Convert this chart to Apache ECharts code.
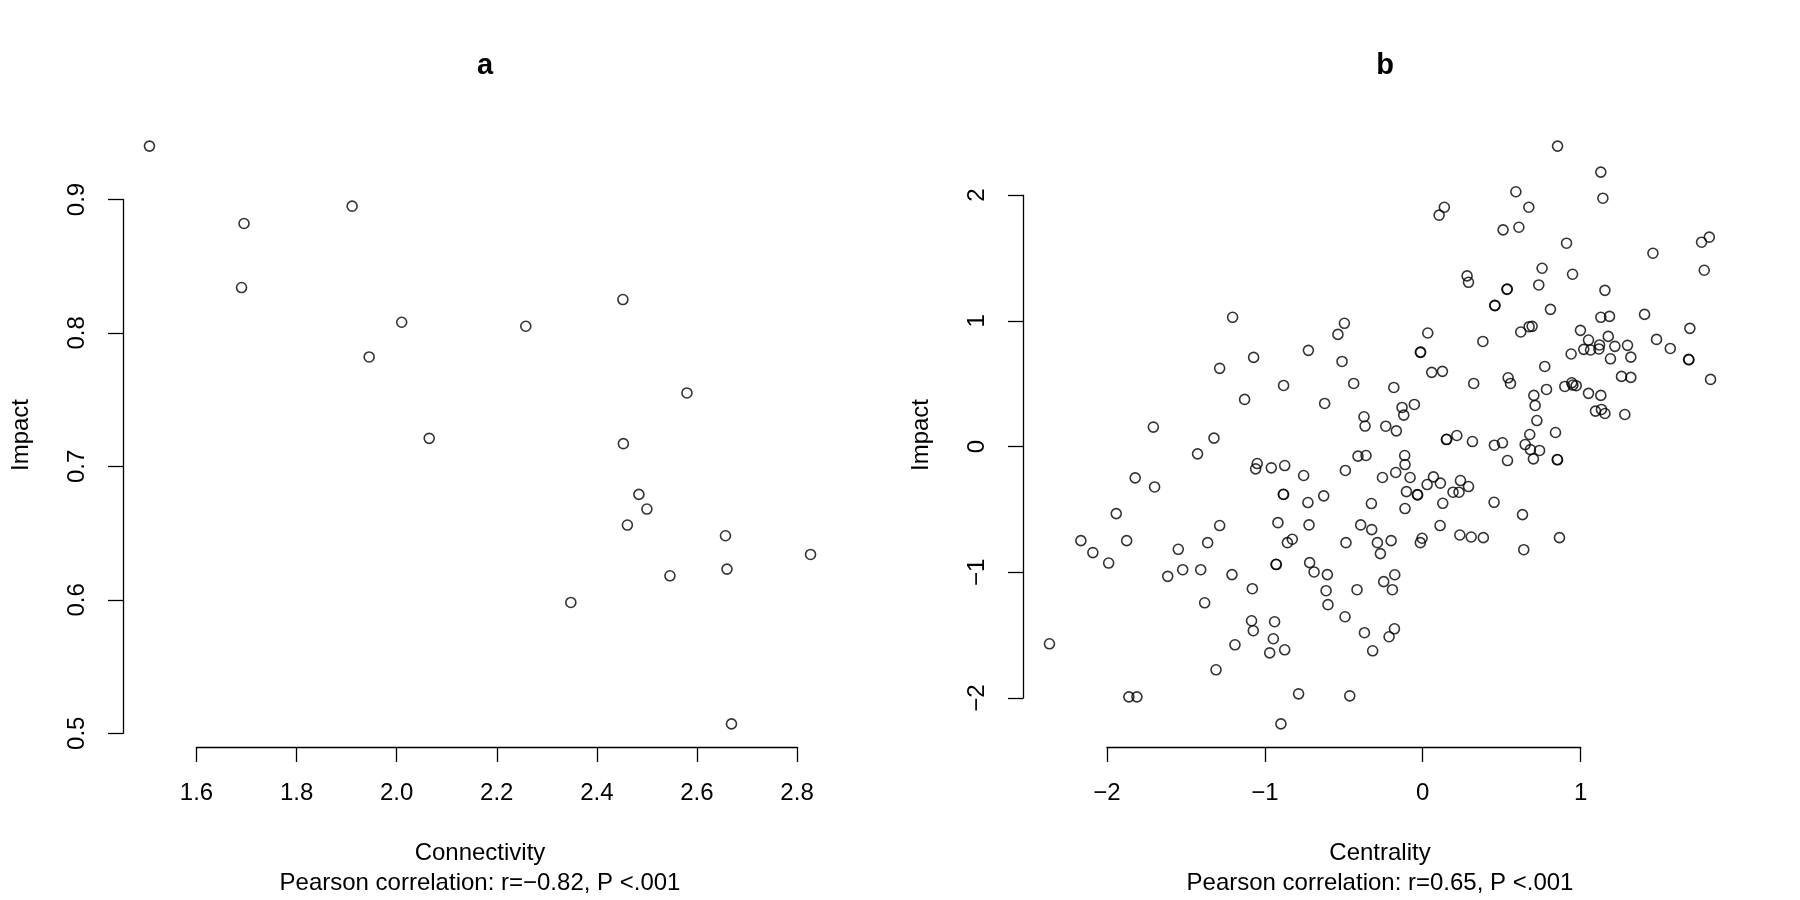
<!DOCTYPE html>
<html>
<head>
<meta charset="utf-8">
<title>Connectivity / Centrality vs Impact</title>
<script src="https://cdn.jsdelivr.net/npm/echarts@6/dist/echarts.min.js"></script>
<style>
  html, body { margin: 0; padding: 0; background: #fff; }
  #chart { width: 1800px; height: 900px; }
</style>
</head>
<body>
<div id="chart"></div>
<script>
// panel a
const connectivity = [1.506, 1.695, 1.690, 1.911, 2.010, 1.945, 2.065, 2.258, 2.452, 2.453,
  2.580, 2.484, 2.500, 2.461, 2.657, 2.660, 2.827, 2.546, 2.348, 2.669]
const impactA = [0.940, 0.882, 0.834, 0.895, 0.808, 0.782, 0.721, 0.805, 0.825, 0.717,
  0.755, 0.679, 0.668, 0.656, 0.648, 0.623, 0.634, 0.618, 0.598, 0.507]

// panel b
const centrality = [
  -1.204, -0.496, -0.537, -0.724, -1.071, -1.286, -0.511, -0.881, -0.437, -1.128, -0.621, -0.372, -0.365, -1.706,
  0.854, 1.128, 1.141, 0.590, 0.672, 0.137, 0.104, 0.509, 0.609, 0.911, 1.458, 1.815, 1.766, 1.783, 0.756, 0.949,
  0.281, 0.290, 0.735, 0.533, 0.536, 1.154, 0.456, 0.458, 0.809, 1.128, 1.183, 1.405, 0.032, 0.381, 0.621, 0.674,
  0.693, 0.999, 1.692, -0.015, -0.013, 1.050, 1.175, 1.481, 1.568, 1.020, 1.063, 1.120, 1.116, 1.217, 1.297, 0.940,
  1.189, 1.318, 1.684, 1.686, 0.057, 0.125, 0.773, 0.541, 0.556, 0.323, -0.183, 0.784, 0.900, 0.944, 0.951, 0.972,
  1.050, 1.128, 1.259, 1.318, 1.823, 0.704, 0.712, 0.723, -0.131, -0.053, -0.120, -0.234, 1.094, 1.132, 1.154, 1.280,
  -1.322, -1.426, -1.048, -1.058, -0.959, -0.874, -0.754, -0.490, -0.410, -0.359, -1.821, -1.698, -0.883, -0.881,
  -0.727, -0.627, -0.325, -1.941, -1.286, -0.917, -0.720, -0.393, -0.323, -2.165, -2.089, -1.989, -1.875, -1.548,
  -1.362, -0.857, -0.826, -0.486, -0.287, -0.268, -0.929, -0.927, -0.716, -0.688, -0.604, -1.615, -1.520, -1.406,
  -1.208, -1.079, -0.612, -0.416, -1.381, -0.600, -0.492, -1.084, -0.938, -1.073, -0.369, -1.189, -0.946, -0.969,
  -0.874, -0.317, -2.364, -1.309, -1.861, -1.810, -0.786, -0.462, -0.898,
  -0.167, 0.150, 0.152, 0.216, 0.315, 0.454, 0.505, 0.678, 0.649, 0.682, 0.740, 0.701, 0.537, 0.841, 0.852, 0.854,
  -0.114, -0.112, -0.171, -0.255, -0.080, 0.068, 0.028, 0.112, 0.239, 0.290, 0.192, 0.230, -0.103, -0.034, -0.032,
  -0.112, 0.127, 0.452, 0.632, 0.110, -0.200, -0.004, -0.015, 0.235, 0.307, 0.384, 0.866, 0.640, -0.177, -0.247,
  -0.192, -0.179, -0.213
]
const impactB = [
  1.028, 0.980, 0.892, 0.765, 0.709, 0.622, 0.677, 0.486, 0.502, 0.375, 0.343, 0.237, 0.163, 0.155,
  2.389, 2.182, 1.975, 2.026, 1.903, 1.903, 1.840, 1.723, 1.744, 1.617, 1.537, 1.665, 1.625, 1.402, 1.418, 1.370,
  1.357, 1.306, 1.285, 1.250, 1.253, 1.242, 1.123, 1.121, 1.091, 1.028, 1.035, 1.051, 0.903, 0.836, 0.911, 0.953,
  0.956, 0.924, 0.940, 0.749, 0.751, 0.847, 0.876, 0.852, 0.780, 0.773, 0.768, 0.808, 0.776, 0.797, 0.805, 0.736,
  0.698, 0.711, 0.693, 0.690, 0.590, 0.598, 0.637, 0.547, 0.502, 0.502, 0.470, 0.454, 0.478, 0.507, 0.489, 0.484,
  0.423, 0.407, 0.558, 0.550, 0.534, 0.407, 0.327, 0.207, 0.311, 0.335, 0.250, 0.162, 0.282, 0.295, 0.263, 0.255,
  0.067, -0.058, -0.135, -0.177, -0.169, -0.151, -0.230, -0.190, -0.076, -0.071, -0.249, -0.321, -0.379, -0.381,
  -0.445, -0.392, -0.453, -0.533, -0.628, -0.605, -0.623, -0.623, -0.660, -0.748, -0.843, -0.926, -0.748, -0.817,
  -0.764, -0.764, -0.737, -0.764, -0.764, -0.851, -0.936, -0.938, -0.923, -0.997, -1.018, -1.032, -0.979, -0.979,
  -1.018, -1.130, -1.146, -1.138, -1.242, -1.257, -1.353, -1.385, -1.393, -1.464, -1.480, -1.576, -1.528, -1.640,
  -1.616, -1.624, -1.568, -1.775, -1.990, -1.990, -1.966, -1.982, -2.205,
  0.125, 0.056, 0.058, 0.088, 0.040, 0.011, 0.030, 0.096, 0.016, -0.024, -0.031, -0.098, -0.111, 0.112, -0.103, -0.105,
  -0.071, -0.143, -0.206, -0.246, -0.246, -0.241, -0.302, -0.291, -0.270, -0.318, -0.363, -0.363, -0.358, -0.382, -0.384,
  -0.493, -0.451, -0.443, -0.541, -0.628, -0.748, -0.729, -0.764, -0.703, -0.719, -0.724, -0.724, -0.820, -1.019, -1.074,
  -1.138, -1.449, -1.512
]

// tick labels
const xTicksA = [1.6, 1.8, 2.0, 2.2, 2.4, 2.6, 2.8]
const yTicksA = [0.5, 0.6, 0.7, 0.8, 0.9]
const xTicksB = [-2, -1, 0, 1]
const yTicksB = [-2, -1, 0, 1, 2]

const titles = ['a', 'b']
const xNames = ['Connectivity', 'Centrality']
const subs = ['Pearson correlation: r=\u22120.82, P <.001', 'Pearson correlation: r=0.65, P <.001']
const yName = 'Impact'

const FONT = '"Liberation Sans", Arial, Helvetica, sans-serif'
const LINE = 30
const PLOT_W = 714
const PLOT_H = 624

// R style: data range padded by 4%
function lim(arr) {
  const lo = Math.min(...arr), hi = Math.max(...arr)
  const pad = (hi - lo) * 0.04
  return [lo - pad, hi + pad]
}

function fmt(dec) {
  return (v) => {
    const s = dec ? v.toFixed(dec) : String(Math.round(v))
    return s.replace('-', '\u2212')
  }
}

const grid = []
const xAxis = []
const yAxis = []
const series = []
const title = []

function addPanel(k, xs, ys, xTicks, yTicks, xDec, yDec) {
  const left = 123 + k * 900
  const top = 123
  const [x0, x1] = lim(xs)
  const [y0, y1] = lim(ys)
  const tx0 = xTicks[0], tx1 = xTicks[xTicks.length - 1]
  const ty0 = yTicks[0], ty1 = yTicks[yTicks.length - 1]
  const base = grid.length

  // data area
  grid.push({ left, top, width: PLOT_W, height: PLOT_H, containLabel: false, outerBoundsMode: 'none' })
  // x axis, spanning first to last tick
  grid.push({
    left: left + (tx0 - x0) / (x1 - x0) * PLOT_W,
    width: (tx1 - tx0) / (x1 - x0) * PLOT_W,
    top, height: PLOT_H, containLabel: false, outerBoundsMode: 'none'
  })
  // y axis, spanning first to last tick
  grid.push({
    left, width: PLOT_W,
    top: top + (y1 - ty1) / (y1 - y0) * PLOT_H,
    height: (ty1 - ty0) / (y1 - y0) * PLOT_H,
    containLabel: false, outerBoundsMode: 'none'
  })

  const hidden = { show: false }
  const line = { show: true, lineStyle: { color: '#000', width: 1.3 } }
  const tick = { show: true, inside: false, length: 15, lineStyle: { color: '#000', width: 1.3 } }
  const label = { color: '#000', fontSize: 24, fontFamily: FONT }

  xAxis.push({
    gridIndex: base, type: 'value', min: x0, max: x1,
    axisLine: hidden, axisTick: hidden, axisLabel: hidden, splitLine: hidden,
    name: xNames[k] + '\n' + subs[k], nameLocation: 'middle', nameGap: 91,
    nameTextStyle: { color: '#000', fontSize: 24, fontFamily: FONT, lineHeight: LINE }
  })
  yAxis.push({
    gridIndex: base, type: 'value', min: y0, max: y1,
    axisLine: hidden, axisTick: hidden, axisLabel: hidden, splitLine: hidden,
    name: yName, nameLocation: 'middle', nameGap: 90,
    nameTextStyle: { color: '#000', fontSize: 24, fontFamily: FONT }
  })

  xAxis.push({
    gridIndex: base + 1, type: 'value', min: tx0, max: tx1, interval: xTicks[1] - xTicks[0],
    axisLine: line, axisTick: tick, splitLine: hidden,
    axisLabel: Object.assign({ margin: 34, formatter: fmt(xDec) }, label)
  })
  yAxis.push({ gridIndex: base + 1, type: 'value', min: 0, max: 1, show: false })

  xAxis.push({ gridIndex: base + 2, type: 'value', min: 0, max: 1, show: false })
  yAxis.push({
    gridIndex: base + 2, type: 'value', min: ty0, max: ty1, interval: yTicks[1] - yTicks[0],
    axisLine: line, axisTick: tick, splitLine: hidden,
    axisLabel: Object.assign({ margin: 34, rotate: 90, formatter: fmt(yDec) }, label)
  })

  series.push({
    type: 'scatter',
    xAxisIndex: base, yAxisIndex: base,
    data: xs.map((x, i) => [x, ys[i]]),
    symbol: 'circle',
    symbolSize: 10,
    itemStyle: { color: 'rgba(0,0,0,0)', borderColor: '#000', borderWidth: 1.6 },
    emphasis: { disabled: true },
    silent: true
  })

  title.push({
    text: titles[k], left: left + PLOT_W / 2, top: 46, textAlign: 'center',
    textStyle: { color: '#000', fontSize: 29, fontWeight: 'bold', fontFamily: FONT }
  })
}

addPanel(0, connectivity, impactA, xTicksA, yTicksA, 1, 1)
addPanel(1, centrality, impactB, xTicksB, yTicksB, 0, 0)

const chart = echarts.init(document.getElementById('chart'), null, { renderer: 'canvas' })
chart.setOption({
  backgroundColor: '#fff',
  animation: false,
  title, grid, xAxis, yAxis, series,
  tooltip: { show: false }
})
</script>
</body>
</html>
